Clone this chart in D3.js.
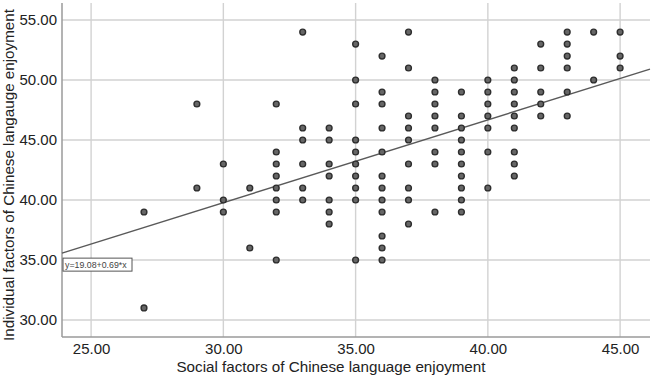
<!DOCTYPE html>
<html><head><meta charset="utf-8">
<script src="https://cdn.jsdelivr.net/npm/d3@7"></script>
<style>html,body{margin:0;padding:0;background:#fff;}svg{display:block;}</style>
</head><body>
<svg id="c" width="655" height="376"></svg>
<script>
// Data: x = social factors, ys = individual factors observed at that x
const xValues = [27, 29, 30, 31, 32, 33, 34, 35, 36, 37, 38, 39, 40, 41, 42, 43, 44, 45];
const yGroups = [
  [39, 31],
  [48, 41],
  [43, 40, 39],
  [41, 36],
  [48, 44, 43, 42, 41, 40, 39, 35],
  [54, 46, 45, 43, 41, 40],
  [46, 45, 43, 42, 40, 39, 38],
  [53, 50, 48, 45, 44, 43, 42, 41, 40, 35],
  [52, 49, 48, 46, 44, 42, 41, 40, 39, 37, 36, 35],
  [54, 51, 47, 46, 45, 43, 41, 40, 38],
  [50, 49, 48, 47, 46, 44, 43, 39],
  [49, 47, 46, 45, 44, 43, 42, 41, 40, 39],
  [50, 49, 48, 47, 46, 44, 41],
  [51, 50, 49, 48, 47, 46, 44, 43, 42],
  [53, 51, 49, 48, 47],
  [54, 53, 52, 51, 49, 47],
  [54, 50],
  [54, 52, 51]
];
const xTicks = [25, 30, 35, 40, 45];
const yTicks = [30, 35, 40, 45, 50, 55];
const fitIntercept = 19.08;
const fitSlope = 0.69;
const fitLabel = "y=19.08+0.69*x";
const xTitle = "Social factors of Chinese language enjoyment";
const yTitle = "Individual factors of Chinese langauge enjoyment";

const points = [];
xValues.forEach((xv, i) => yGroups[i].forEach(yv => points.push({x: xv, y: yv})));

const L = 62, R = 650, T = 3, B = 337;
const x = d3.scaleLinear().domain([23.9, 46.13]).range([L, R]);
const y = d3.scaleLinear().domain([28.58, 56.42]).range([B, T]);

const svg = d3.select("#c");
const font = "'Liberation Sans', Arial, sans-serif";

// gridlines
svg.append("g").selectAll("line").data(xTicks).join("line")
  .attr("x1", d => x(d)).attr("x2", d => x(d))
  .attr("y1", T).attr("y2", B)
  .attr("stroke", "#d2d2d2").attr("stroke-width", 1.4);
svg.append("g").selectAll("line").data(yTicks).join("line")
  .attr("x1", L).attr("x2", R)
  .attr("y1", d => y(d)).attr("y2", d => y(d))
  .attr("stroke", "#d2d2d2").attr("stroke-width", 1.4);

// axes
const xAxis = d3.axisBottom(x).tickValues(xTicks).tickFormat(d3.format(".2f")).tickSize(0).tickPadding(6);
const yAxis = d3.axisLeft(y).tickValues(yTicks).tickFormat(d3.format(".2f")).tickSize(0).tickPadding(5);
const gx = svg.append("g").attr("transform", `translate(0,${B})`).call(xAxis);
const gy = svg.append("g").attr("transform", `translate(${L},0)`).call(yAxis);
[gx, gy].forEach(g => {
  g.select(".domain").attr("stroke", "#9a9a9a").attr("stroke-width", 1.5);
  g.selectAll("text").attr("font-family", font).attr("font-size", 15).attr("fill", "#222");
});
gx.select(".domain").attr("d", `M${L},0H${R}`);
gy.select(".domain").attr("d", `M0,${T}V${B}`);

// fit line
const [x0, x1] = x.domain();
svg.append("line")
  .attr("x1", x(x0)).attr("y1", y(fitIntercept + fitSlope * x0))
  .attr("x2", x(x1)).attr("y2", y(fitIntercept + fitSlope * x1))
  .attr("stroke", "#5a5a5a").attr("stroke-width", 1.5);

// points
svg.append("g").selectAll("circle").data(points).join("circle")
  .attr("cx", d => x(d.x)).attr("cy", d => y(d.y)).attr("r", 2.9)
  .attr("fill", "#666").attr("stroke", "#2e2e2e").attr("stroke-width", 1.4);

// fit label box
const lbl = svg.append("g").attr("transform", `translate(${L + 1},${y(fitIntercept + fitSlope * x0) + 5})`);
lbl.append("rect").attr("x", 0).attr("y", 0).attr("width", 69).attr("height", 13)
  .attr("fill", "#fff").attr("stroke", "#555").attr("stroke-width", 1);
lbl.append("text").attr("x", 2).attr("y", 9.8).text(fitLabel)
  .attr("font-family", font).attr("font-size", 8.8).attr("fill", "#444");

// titles
svg.append("text").attr("x", 331).attr("y", 372).attr("text-anchor", "middle")
  .attr("font-family", font).attr("font-size", 15.2).attr("fill", "#222").text(xTitle);
svg.append("text").attr("transform", `translate(14,175) rotate(-90)`).attr("text-anchor", "middle")
  .attr("font-family", font).attr("font-size", 15.2).attr("fill", "#222").text(yTitle);
</script>
</body></html>
